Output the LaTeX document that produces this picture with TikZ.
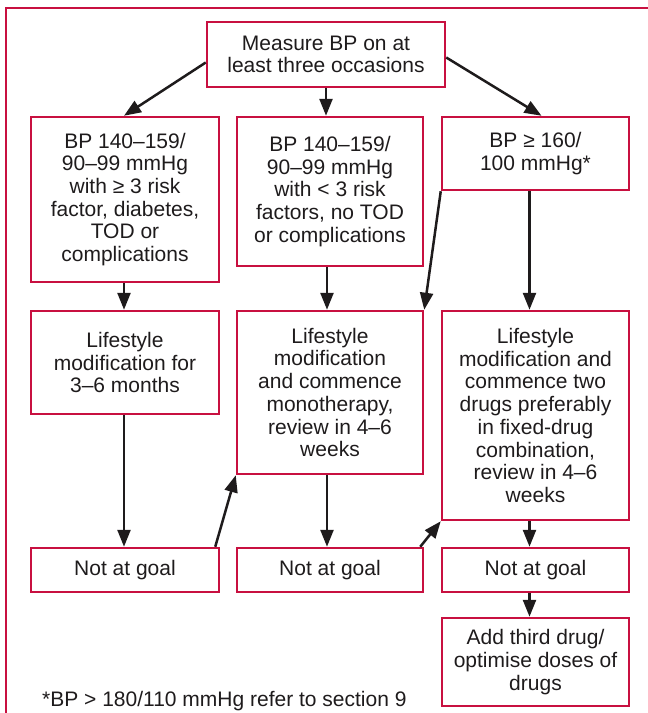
\documentclass[tikz,border=0pt]{standalone}
\usepackage{fontspec}
\setmainfont{Liberation Sans}
\usetikzlibrary{arrows.meta,calc}
\definecolor{boxred}{RGB}{200,16,64}
\definecolor{ink}{RGB}{30,27,28}
\begin{document}
\begin{tikzpicture}[x=1pt,y=-1pt,
  box/.style={draw=boxred,line width=2.5pt,inner sep=0pt,align=center,text=ink,
    font=\fontsize{21}{22.7}\selectfont},
  arr/.style={draw=ink,line width=2.5pt,-{Triangle[length=17pt,width=13pt]}}]
\useasboundingbox (0,0) rectangle (648,713);
\draw[boxred,line width=2.5pt,line join=miter] (660,8) -- (6,8) -- (6,720);

\node[box,minimum width=238pt,minimum height=65pt] (top) at (326,54.5) {Measure BP on at\\least three occasions};
\node[box,minimum width=188pt,minimum height=165pt] (A) at (125,199.5) {BP 140–159/\\90–99 mmHg\\with ≥ 3 risk\\factor, diabetes,\\TOD or\\complications};
\node[box,minimum width=186pt,minimum height=149pt] (B) at (330,191.5) {BP 140–159/\\90–99 mmHg\\with < 3 risk\\factors, no TOD\\or complications};
\node[box,minimum width=187pt,minimum height=73pt] (C) at (535.5,153.5) {BP ≥ 160/\\100 mmHg*};
\node[box,minimum width=188pt,minimum height=103pt] (D) at (125,362.5) {Lifestyle\\modification for\\3–6 months};
\node[box,minimum width=186pt,minimum height=163pt] (E) at (330,392.5) {Lifestyle\\modification\\and commence\\monotherapy,\\review in 4–6\\weeks};
\node[box,minimum width=187pt,minimum height=209pt] (F) at (535.5,415.5) {Lifestyle\\modification and\\commence two\\drugs preferably\\in fixed-drug\\combination,\\review in 4–6\\weeks};
\node[box,minimum width=188pt,minimum height=44pt] (N1) at (125,570) {Not at goal};
\node[box,minimum width=186pt,minimum height=44pt] (N2) at (330,570) {Not at goal};
\node[box,minimum width=187pt,minimum height=44pt] (N3) at (535.5,570) {Not at goal};
\node[box,minimum width=187pt,minimum height=88pt] (G) at (535.5,662) {Add third drug/\\optimise doses of\\drugs};
\node[anchor=base west,inner sep=0pt,text=ink,font=\fontsize{21}{22.7}\selectfont] (fn) at (42,706.5) {*BP > 180/110 mmHg refer to section 9};

\draw[arr] ($(top.west)+(0,8)$) -- ($(A.north)+(-1,0)$);
\draw[arr] (top.south) -- (top.south |- B.north);
\draw[arr] ($(top.east)+(0,3)$) -- ($(C.north)+(6,0)$);
\draw[arr] ($(A.south)+(-1,0)$) -- ($(D.north)+(-1,0)$);
\draw[arr] ($(B.south)+(-3,0)$) -- ($(E.north)+(-3,0)$);
\draw[arr] (C.south west) -- (E.north east);
\draw[arr] ($(C.south)+(-6,0)$) -- ($(F.north)+(-6,0)$);
\draw[arr] ($(D.south)+(-1,0)$) -- ($(N1.north)+(-1,0)$);
\draw[arr] ($(N1.north east)+(-5,0)$) -- (E.south west);
\draw[arr] ($(E.south)+(-3,0)$) -- ($(N2.north)+(-3,0)$);
\draw[arr] ($(N2.north east)+(-4,0)$) -- (F.south west);
\draw[arr] ($(F.south)+(-6,0)$) -- ($(N3.north)+(-6,0)$);
\draw[arr] ($(N3.south)+(-6,0)$) -- ($(G.north)+(-6,0)$);
\end{tikzpicture}
\end{document}
